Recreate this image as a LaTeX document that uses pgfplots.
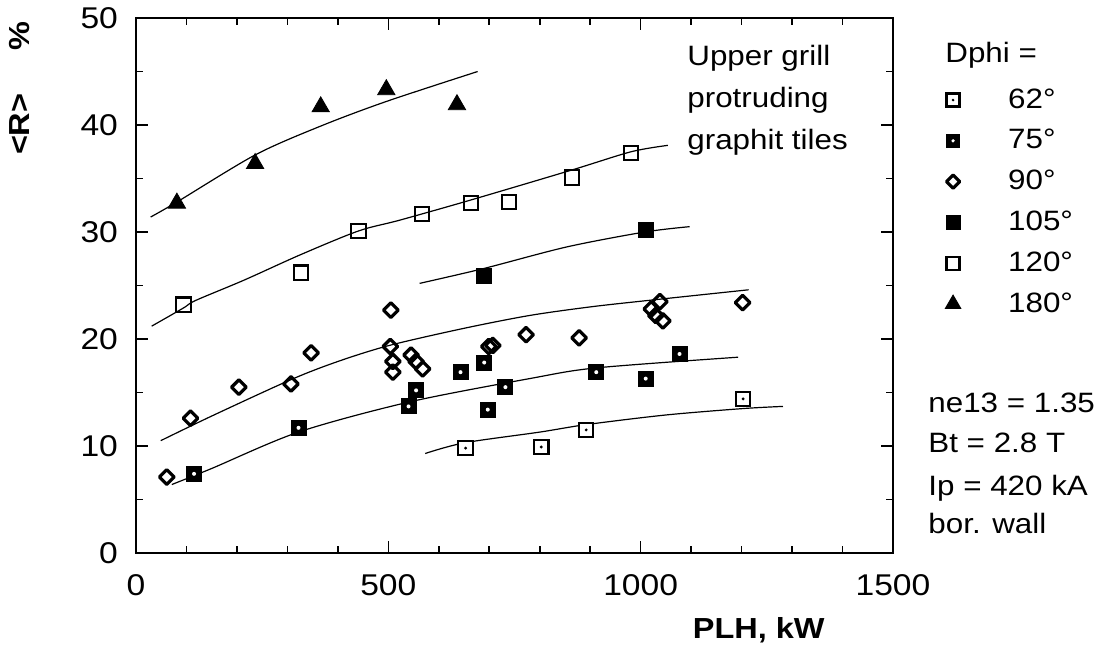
\documentclass[border=0pt]{standalone}
\usepackage{fontspec}
\setmainfont{Liberation Sans}[FakeStretch=1.12]
\usepackage{pgfplots}
\pgfplotsset{compat=1.18}
\pgfdeclareplotmark{sqdot}{%
  \pgfpathrectangle{\pgfqpoint{-\pgfplotmarksize}{-\pgfplotmarksize}}{\pgfqpoint{2\pgfplotmarksize}{2\pgfplotmarksize}}%
  \pgfusepathqfillstroke
  \begin{pgfscope}\pgfsetfillcolor{black}\pgfpathcircle{\pgfpointorigin}{0.8pt}\pgfusepathqfill\end{pgfscope}}
\pgfdeclareplotmark{fsqdot}{%
  \pgfpathrectangle{\pgfqpoint{-\pgfplotmarksize}{-\pgfplotmarksize}}{\pgfqpoint{2\pgfplotmarksize}{2\pgfplotmarksize}}%
  \pgfusepathqfillstroke
  \begin{pgfscope}\pgfsetfillcolor{white}\pgfpathcircle{\pgfpointorigin}{1.0pt}\pgfusepathqfill\end{pgfscope}}
\pgfplotsset{fitline/.style={black, line width=0.6pt, smooth, no markers, forget plot}}
\begin{document}
\begin{tikzpicture}
\useasboundingbox (0,0) rectangle (554pt,325pt);
\begin{axis}[
  at={(68pt,48.5pt)}, anchor=south west,
  width=378.5pt, height=267.5pt, scale only axis,
  xmin=0, xmax=1500, ymin=0, ymax=50,
  xtick={0,500,1000,1500}, minor x tick num=4,
  ytick={0,10,...,50}, minor y tick num=1,
  tick align=inside, major tick length=6pt, minor tick length=3.5pt,
  axis line style={line width=1.2pt},
  tick style={line width=0.8pt, black},
  tick label style={font=\fontsize{15}{17}\selectfont},
  /pgf/number format/assume math mode=true,
  /pgf/number format/1000 sep={},
  xticklabel style={yshift=-7pt},
  yticklabel style={xshift=-5.5pt},
  xlabel={\bfseries PLH, kW},
  xlabel style={at={(rel axis cs:0.8226,0)}, anchor=base, yshift=-42.5pt, font=\fontsize{14.5}{17}\selectfont},
  ylabel={\bfseries <R>\hspace{1.5em}\%},
  ylabel style={at={(rel axis cs:0,0.869)}, anchor=center, yshift=58pt, font=\fontsize{14.5}{17}\selectfont},
  legend style={at={(1.0568,0.8729)}, anchor=north west, draw=none, fill=none,
    inner sep=0pt, outer sep=0pt, row sep=6.4pt, font=\fontsize{14}{16}\selectfont,
    nodes={inner sep=0pt, text height=11pt, text depth=3pt},
    /tikz/every odd column/.append style={column sep=19pt}},
  legend cell align=left,
  legend image code/.code={\path[draw=none, fill=none] (0cm,-1pt) rectangle (0.6cm,1pt);
    \draw[every mark/.append style={scale=0.9}] plot coordinates {(0.3cm,0cm)};},
]
% 62 deg
\addplot[only marks, mark=sqdot, mark size=3.6pt, mark options={draw=black, fill=white, line width=1.1pt}]
  coordinates {(653,9.8) (803,9.9) (892,11.5) (1203,14.4)};
\addlegendentry{62°}
% 75 deg
\addplot[only marks, mark=fsqdot, mark size=3.7pt, mark options={draw=black, fill=black, line width=0.6pt}]
  coordinates {(115,7.4) (322,11.7) (540,13.7) (555,15.2) (643,16.9) (690,17.8) (697,13.4) (732,15.5) (912,16.9) (1010,16.3) (1077,18.6)};
\addlegendentry{75°}
% 90 deg
\addplot[only marks, mark=square, mark size=2.6pt, mark options={rotate=45, draw=black, fill=white, line width=1.6pt, line join=round}]
  coordinates {(61,7.1) (108,12.6) (204,15.5) (307,15.8) (347,18.7) (505,22.7) (504,19.3) (509,17.9) (509,16.9) (545,18.5) (555,17.9) (568,17.2) (699,19.3) (707,19.4) (773,20.4) (878,20.1) (1021,22.8) (1038,23.5) (1030,22.2) (1044,21.7) (1202,23.4)};
\addlegendentry{90°}
% 105 deg
\addplot[only marks, mark=square*, mark size=3.8pt, mark options={draw=black, fill=black}]
  coordinates {(690,25.9) (1010,30.2)};
\addlegendentry{105°}
% 120 deg
\addplot[only marks, mark=square, mark size=3.6pt, mark options={draw=black, fill=white, line width=1.1pt}]
  coordinates {(94,23.2) (327,26.2) (441,30.1) (567,31.7) (664,32.7) (739,32.8) (864,35.1) (981,37.4)};
\addlegendentry{120°}
% 180 deg
\addplot[only marks, mark=triangle*, mark size=5pt, mark options={draw=black, fill=black}]
  coordinates {(81,32.7) (236,36.4) (366,41.7) (496,43.3) (636,41.9)};
\addlegendentry{180°}
% fitted curves
\addplot[fitline] coordinates {(573,9.3) (651,10.3) (800,11.3) (892,12.0) (1050,12.9) (1203,13.5) (1282,13.7)};
\addplot[fitline] coordinates {(71,6.4) (150,7.9) (322,11.3) (540,14.1) (780,16.3) (912,17.3) (1193,18.3)};
\addplot[fitline] coordinates {(49,10.5) (150,12.8) (307,16.2) (400,17.9) (502,19.4) (650,21.0) (780,22.2) (900,23.0) (1014,23.6) (1214,24.6)};
\addplot[fitline] coordinates {(562,25.2) (690,26.6) (853,28.6) (1008,30.0) (1097,30.5)};
\addplot[fitline] coordinates {(31,21.2) (94,22.9) (118,23.6) (214,25.5) (327,27.9) (441,30.1) (522,31.1) (664,33.0) (864,35.8) (981,37.5) (1054,38.1)};
\addplot[fitline] coordinates {(29,31.4) (81,32.8) (236,37.2) (366,39.9) (496,42.2) (677,45.0)};
\end{axis}
\begin{scope}[every node/.style={font=\fontsize{14}{16}\selectfont, inner sep=0pt}]
\node[anchor=base west] at (343.5pt,292.5pt) {Upper grill};
\node[anchor=base west] at (343.5pt,271.5pt) {protruding};
\node[anchor=base west] at (343.5pt,250.5pt) {graphit tiles};
\node[anchor=base west] at (472.5pt,294pt) {Dphi =};
\node[anchor=base west] at (464pt,119pt) {ne13 = 1.35};
\node[anchor=base west] at (464pt,99pt) {Bt = 2.8 T};
\node[anchor=base west] at (464pt,77.5pt) {Ip = 420 kA};
\node[anchor=base west] at (464pt,58.5pt) {bor. wall};
\end{scope}
\end{tikzpicture}
\end{document}
